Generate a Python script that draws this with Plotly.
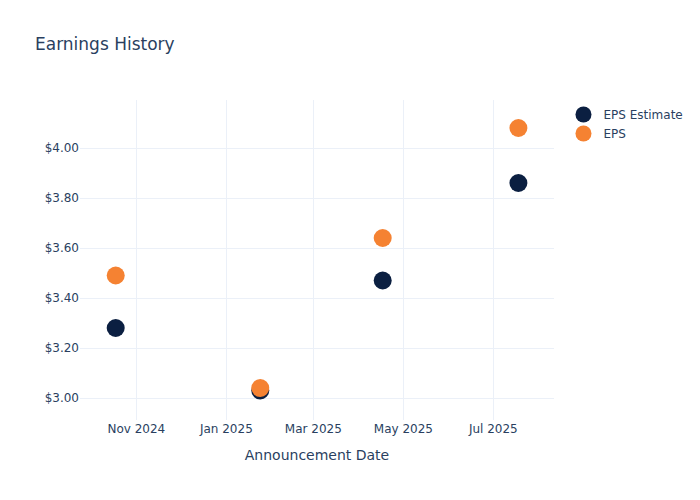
import plotly.graph_objects as go

dates = ["2024-10-18", "2025-01-24", "2025-04-17", "2025-07-18"]
eps_estimate = [3.28, 3.03, 3.47, 3.86]
eps_actual = [3.49, 3.04, 3.64, 4.08]

fig = go.Figure()
fig.add_trace(go.Scatter(x=dates, y=eps_estimate, mode="markers", name="EPS Estimate",
                         marker=dict(color="#0b1f41", size=18)))
fig.add_trace(go.Scatter(x=dates, y=eps_actual, mode="markers", name="EPS",
                         marker=dict(color="#f58232", size=18)))
fig.update_layout(
    template="plotly_white",
    width=700, height=500,
    title=dict(text="Earnings History"),
    font=dict(family="DejaVu Sans"),
    xaxis=dict(title=dict(text="Announcement Date"),
               range=["2024-09-23 19:00", "2025-08-11 03:00"]),
    yaxis=dict(tickformat="$.2f", range=[2.912, 4.192]),
)
fig.write_html("out.html", config={"displayModeBar": False},
               post_script="document.body.style.margin='0';")
